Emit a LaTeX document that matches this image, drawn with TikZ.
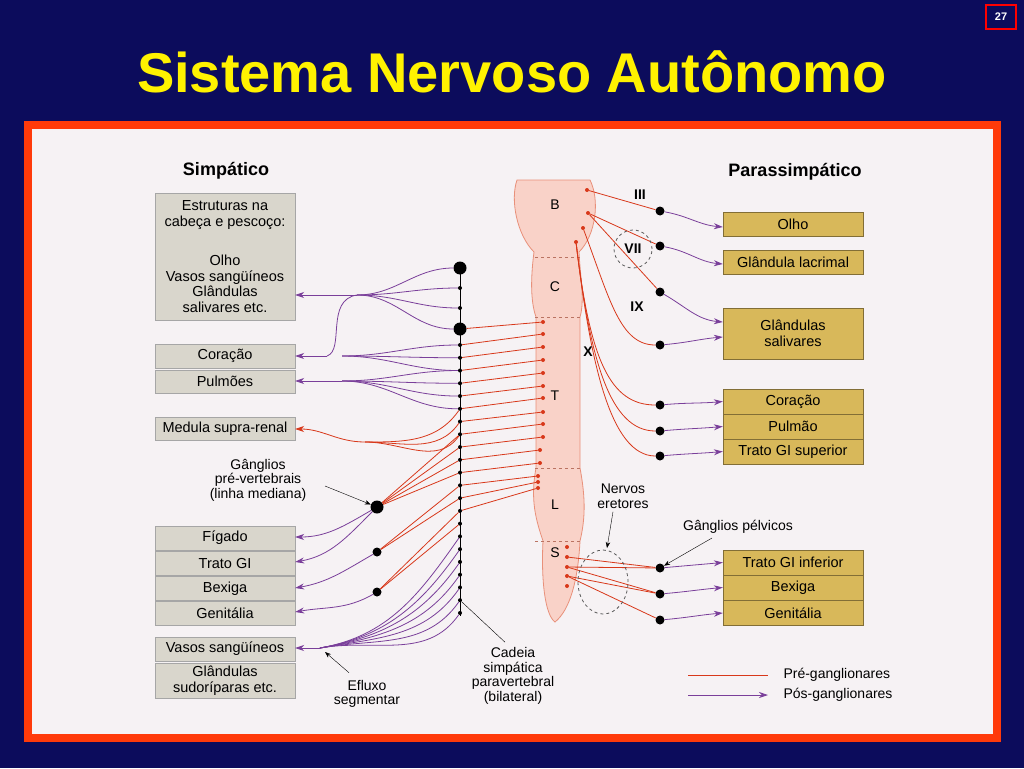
\documentclass[tikz,border=0pt]{standalone}
\usepackage{fontspec}
\setmainfont{Liberation Sans}
\usetikzlibrary{arrows.meta,positioning,calc}
\definecolor{navy}{HTML}{0C0C5C}
\definecolor{frame}{HTML}{FF3A0A}
\definecolor{paper}{HTML}{F6F2F4}
\definecolor{prered}{HTML}{D8381A}
\definecolor{postpur}{HTML}{7A3F9A}
\definecolor{graybox}{HTML}{D9D6CC}
\definecolor{goldbox}{HTML}{D8B85A}
\definecolor{cordfill}{HTML}{F9D2C8}
\definecolor{cordline}{HTML}{E8907A}

\begin{document}
\begin{tikzpicture}[x=1pt,y=-1pt,
    sbox/.style={rectangle,draw=gray!70,fill=graybox,minimum width=140pt,align=center,inner sep=1pt,font=\fontsize{14.5}{15.5}\selectfont},
    pbox/.style={rectangle,draw=goldbox!60!black,fill=goldbox,minimum width=140pt,align=center,inner sep=1pt,font=\fontsize{14.5}{15.5}\selectfont},
    pre/.style={prered,thick},
    post/.style={postpur,thick,-{Stealth[length=9pt,width=6pt]}},
    lbl/.style={font=\fontsize{14}{14.5}\selectfont,align=center},
    roman/.style={font=\bfseries\fontsize{14}{14}\selectfont},
    ganglion/.style={circle,fill=black,inner sep=0pt,minimum size=#1},
    ganglion/.default=9pt,
    cdot/.style={circle,fill=prered,inner sep=0pt,minimum size=4pt}
]

% === Background and frame ===
\fill[navy] (0,0) rectangle (1024,768);
\useasboundingbox (0,0) rectangle (1024,768);
\draw[frame,line width=8pt,fill=paper] (28,125) rectangle (997,738);
\node[draw=red,line width=2pt,text=white,font=\fontsize{11}{12}\selectfont\bfseries,minimum width=30pt,minimum height=24pt] (page) at (1001,17) {27};
\node[text=yellow,font=\bfseries\fontsize{56}{60}\selectfont] (title) at (512,72) {Sistema Nervoso Autônomo};

% === Headers ===
\node[font=\bfseries\fontsize{18}{19}\selectfont] (simp) at (226,171) {Simpático};
\node[font=\bfseries\fontsize{18}{19}\selectfont] (para) at (795,172) {Parassimpático};

% === Spinal cord ===
\draw[cordline,fill=cordfill,thick] (517,180) -- (590,180)
    .. controls (600,200) and (596,235) .. (579,252)
    .. controls (580,275) and (585,300) .. (580,317)
    -- (580,468) .. controls (586,500) and (585,520) .. (580,541)
    .. controls (578,580) and (570,610) .. (555,622)
    .. controls (545,615) and (541,580) .. (543,541)
    .. controls (536,520) and (530,500) .. (536,468)
    -- (536,317) .. controls (530,300) and (531,275) .. (534,252)
    .. controls (517,235) and (510,200) .. (517,180) -- cycle;
\foreach \y in {257,317,468,541}
    \draw[cordline!80!black,dashed,thick] (535,\y) -- (580,\y);
\foreach \t/\y in {B/205,C/287,T/396,L/505,S/553}
    \node[lbl] (seg\t) at (555,\y) {\t};

% === Sympathetic chain ===
\coordinate (chtop) at (460,262);
\coordinate (chbot) at (460,616);
\draw[thick] (chtop) -- (chbot);
\node[ganglion=13pt] (chA) at (460,268) {};
\node[ganglion=4pt] (chB) at (460,288) {};
\node[ganglion=4pt] (chC) at (460,308) {};
\node[ganglion=13pt] (chD) at (460,329) {};
\foreach \i in {0,...,21}
    \node[ganglion=4pt] (ch\i) at (460,{345+12.76*\i}) {};

% cord dots (T and L) and preganglionic lines to chain
\foreach \i/\y/\x in {0/322/543,1/334/543,2/347/543,3/360/543,4/373/543,5/386/543,6/398/543,7/412/543,8/424/543,9/437/543,10/450/540,11/463/540,12/476/538,13/482/538,14/488/538}
    \node[cdot] (c\i) at (\x,\y) {};
\draw[pre] (c0) -- (chD);
\foreach \i [evaluate=\i as \j using int(\i-1)] in {1,...,14}
    \draw[pre] (c\i) -- (ch\j);

% === Left boxes ===
\node[sbox,minimum height=127pt] (estr) at (225,256.5) {Estruturas na\\cabeça e pescoço:\\[24pt]Olho\\Vasos sangüíneos\\Glândulas\\salivares etc.};
\node[sbox,minimum height=24pt] (coracao) at (225,356) {Coração};
\node[sbox,minimum height=23pt] (pulmoes) at (225,381.5) {Pulmões};
\node[sbox,minimum height=23pt] (medula) at (225,428.5) {Medula supra-renal};
\node[sbox,minimum height=24pt] (figado) at (225,538) {Fígado};
\node[sbox,minimum height=24pt] (tratogi) at (225,563) {Trato GI};
\node[sbox,minimum height=24pt] (bexiga) at (225,588.5) {Bexiga};
\node[sbox,minimum height=24pt] (genit) at (225,613.5) {Genitália};
\node[sbox,minimum height=24pt] (vasos) at (225,649) {Vasos sangüíneos};
\node[sbox,minimum height=35pt] (sudor) at (225,680.5) {Glândulas\\sudoríparas etc.};

% === Postganglionic (sympathetic) ===
\coordinate (fkE) at (357,295);
\foreach \n in {chA,chB,chC,chD}
    \draw[postpur,thick] (\n) to[out=180,in=0] (fkE);
\draw[post] (fkE) -- (estr.east |- fkE);
\coordinate (fkC) at (327,356);
\draw[postpur,thick] (fkE) .. controls (325,300) and (345,350) .. (fkC);
\foreach \n in {ch0,ch1,ch2}
    \draw[postpur,thick] (\n) to[out=180,in=0] (342,356);
\draw[post] (fkC) -- (coracao.east |- fkC);
\coordinate (fkP) at (342,381);
\foreach \n in {ch2,ch3,ch4,ch5}
    \draw[postpur,thick] (\n) to[out=180,in=0] (fkP);
\draw[post] (fkP) -- (pulmoes.east |- fkP);

% adrenal medulla (preganglionic direct)
\coordinate (fkM) at (365,442);
\foreach \n in {ch5,ch6,ch7}
    \draw[pre] (\n) to[out=235,in=0] (fkM);
\draw[pre,-{Stealth[length=9pt,width=6pt]}] (fkM) to[out=180,in=0] (medula.east |- 0,429);

% prevertebral ganglia
\node[ganglion=13pt] (gpv1) at (377,507) {};
\node[ganglion=9pt] (gpv2) at (377,552) {};
\node[ganglion=9pt] (gpv3) at (377,592) {};
\foreach \n in {ch7,ch8,ch9,ch10}
    \draw[pre] (\n) -- (gpv1);
\foreach \n in {ch11,ch12}
    \draw[pre] (\n) -- (gpv2);
\foreach \n in {ch13,ch14}
    \draw[pre] (\n) -- (gpv3);
\draw[post] (gpv1) to[out=210,in=0] (figado.east |- 0,537);
\draw[post] (gpv1) to[out=225,in=10] (tratogi.east |- 0,562);
\draw[post] (gpv2) to[out=210,in=10] (bexiga.east |- 0,588);
\draw[post] (gpv3) to[out=210,in=10] (genit.east |- 0,612);

% segmental outflow
\coordinate (fkV) at (320,648);
\foreach \i in {15,...,21}
    \draw[postpur,thick] (ch\i) to[out=235,in=10] (fkV);
\draw[post] (fkV) -- (vasos.east |- fkV);

% === Sympathetic labels ===
\node[lbl] (gpvlbl) at (258,480) {Gânglios\\pré-vertebrais\\(linha mediana)};
\draw[-{Stealth[length=6pt]}] (325,486) -- (gpv1);
\node[lbl] (cadeia) at (513,676) {Cadeia\\simpática\\paravertebral\\(bilateral)};
\draw (cadeia.north) ++(-8,-2) coordinate (cadA) -- (ch20);
\node[lbl] (efluxo) at (367,694) {Efluxo\\segmentar};
\draw[-{Stealth[length=6pt]}] (efluxo.north) ++(-18,-4) coordinate (efA) -- ($(fkV)+(5,4)$);

% === Parasympathetic ===
\node[cdot] (b1) at (587,190) {};
\node[cdot] (b2) at (588,213) {};
\node[cdot] (b3) at (583,228) {};
\node[cdot] (b4) at (576,242) {};
\foreach \i/\y in {1/211,2/246,3/292,4/345,5/405,6/431,7/456}
    \node[ganglion] (p\i) at (660,\y) {};
\node[pbox,minimum height=24pt] (olho) at (793,224) {Olho};
\node[pbox,minimum height=24pt] (lacrimal) at (793,262.5) {Glândula lacrimal};
\node[pbox,minimum height=51pt] (saliv) at (793,333.5) {Glândulas\\salivares};
\node[pbox,minimum height=25pt] (corP) at (793,401.5) {Coração};
\node[pbox,minimum height=25pt] (pulmao) at (793,426.5) {Pulmão};
\node[pbox,minimum height=25pt] (gisup) at (793,451.5) {Trato GI superior};
\node[pbox,minimum height=25pt] (giinf) at (793,562.5) {Trato GI inferior};
\node[pbox,minimum height=25pt] (bexP) at (793,587.5) {Bexiga};
\node[pbox,minimum height=25pt] (genP) at (793,613) {Genitália};

\draw[pre] (b1) -- (p1);
\draw[pre] (b2) -- (p2);
\draw[pre] (b2) -- (p3);
\draw[pre] (b3) .. controls (610,300) and (620,345) .. (p4);
\foreach \n/\y in {p5/405,p6/431,p7/456}
    \draw[pre] (b4) .. controls (590,360) and (610,\y) .. (\n);
\draw[post] (p1) to[out=-10,in=175] (olho.west |- 0,227);
\draw[post] (p2) to[out=-10,in=175] (lacrimal.west |- 0,264);
\draw[post] (p3) to[out=-30,in=175] (saliv.west |- 0,322);
\draw[post] (p4) to[out=5,in=185] (saliv.west |- 0,337);
\draw[post] (p5) to[out=5,in=185] (corP.west);
\draw[post] (p6) to[out=5,in=185] (pulmao.west);
\draw[post] (p7) to[out=5,in=185] (gisup.west);

\node[roman] (nIII) at (640,195) {III};
\node[roman] (nVII) at (633,249) {VII};
\node[roman] (nIX) at (637,307) {IX};
\node[roman] (nX) at (588,352) {X};
\draw[dashed,thick,gray!70!black] (nVII) ellipse (19pt and 19pt);

% sacral outflow
\foreach \i/\y in {1/547,2/557,3/567,4/576,5/586}
    \node[cdot] (s\i) at (567,\y) {};
\foreach \i/\y in {1/568,2/594,3/620}
    \node[ganglion] (pg\i) at (660,\y) {};
\draw[pre] (s2) -- (pg1);
\draw[pre] (s3) -- (pg1);
\draw[pre] (s3) -- (pg2);
\draw[pre] (s4) -- (pg2);
\draw[pre] (s4) -- (pg3);
\draw[post] (pg1) to[out=5,in=185] (giinf.west);
\draw[post] (pg2) to[out=5,in=185] (bexP.west);
\draw[post] (pg3) to[out=5,in=185] (genP.west);
\coordinate (erecC) at (603,582);
\draw[dashed,thick,gray!70!black] (erecC) ellipse (25pt and 32pt);
\node[lbl] (eretores) at (623,496) {Nervos\\eretores};
\draw[-{Stealth[length=6pt]}] (eretores.south) ++(-10,0) coordinate (erA) -- (607,548);
\node[lbl] (pelv) at (738,527) {Gânglios pélvicos};
\coordinate (pvA) at (712,538);
\draw[-{Stealth[length=6pt]}] (pvA) -- (pg1);

% === Legend ===
\coordinate (lgA) at (688,675);
\coordinate (lgB) at (768,675);
\coordinate (lgC) at (688,695);
\coordinate (lgD) at (768,695);
\draw[pre] (lgA) -- (lgB);
\draw[post] (lgC) -- (lgD);
\node[lbl,right] (lgpre) at (780,675) {Pré-ganglionares};
\node[lbl,right] (lgpost) at (780,695) {Pós-ganglionares};

\end{tikzpicture}
\end{document}
